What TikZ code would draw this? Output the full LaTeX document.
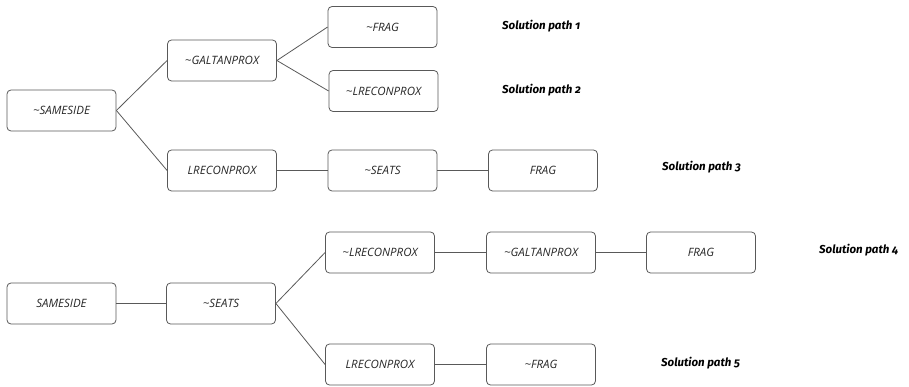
\documentclass[tikz,border=0pt]{standalone}
\usepackage{fontspec}
\setmainfont{Open Sans}
\newfontfamily\labfont[Numbers=OldStyle]{Fira Sans}
\begin{document}
\begin{tikzpicture}[x=1pt,y=-1pt,
  box/.style={draw=black!65,line width=0.8pt,rounded corners=4pt,minimum width=109pt,minimum height=41pt,inner sep=0pt,font=\fontsize{11.5}{13}\selectfont\itshape,text=black!85},
  conn/.style={draw=black!65,line width=0.8pt},
  sol/.style={font=\labfont\fontsize{11.5}{13}\selectfont\bfseries\itshape,inner sep=0pt,anchor=west}]
\useasboundingbox (0,0) rectangle (909,387);
% top tree
\node[box] (s1) at (61.5,110.5) {\textasciitilde SAMESIDE};
\node[box] (g1) at (222,60.5) {\textasciitilde GALTANPROX};
\node[box] (f1) at (382.5,27) {\textasciitilde FRAG};
\node[box] (l1) at (383.5,91) {\textasciitilde LRECONPROX};
\node[box] (l2) at (222,170.5) {LRECONPROX};
\node[box] (se1) at (382.5,170.5) {\textasciitilde SEATS};
\node[box] (f2) at (543,170.5) {FRAG};
\node[sol] (p1) at (502,26) {Solution path 1};
\node[sol] (p2) at (502,90) {Solution path 2};
\node[sol] (p3) at (662,167) {Solution path 3};
\draw[conn] (s1.east) -- (g1.west);
\draw[conn] (s1.east) -- (l2.west);
\draw[conn] (g1.east) -- (f1.west);
\draw[conn] (g1.east) -- (l1.west);
\draw[conn] (l2.east) -- (se1.west);
\draw[conn] (se1.east) -- (f2.west);
% bottom tree
\node[box] (s2) at (61.5,303.5) {SAMESIDE};
\node[box] (se2) at (221,303.5) {\textasciitilde SEATS};
\node[box] (l3) at (380,252.5) {\textasciitilde LRECONPROX};
\node[box] (l4) at (380,364.5) {LRECONPROX};
\node[box] (g2) at (541,252.5) {\textasciitilde GALTANPROX};
\node[box] (f3) at (701,252.5) {FRAG};
\node[box] (f4) at (541,364.5) {\textasciitilde FRAG};
\node[sol] (p4) at (819,250) {Solution path 4};
\node[sol] (p5) at (661,363) {Solution path 5};
\draw[conn] (s2.east) -- (se2.west);
\draw[conn] (se2.east) -- (l3.west);
\draw[conn] (se2.east) -- (l4.west);
\draw[conn] (l3.east) -- (g2.west);
\draw[conn] (g2.east) -- (f3.west);
\draw[conn] (l4.east) -- (f4.west);
\end{tikzpicture}
\end{document}
